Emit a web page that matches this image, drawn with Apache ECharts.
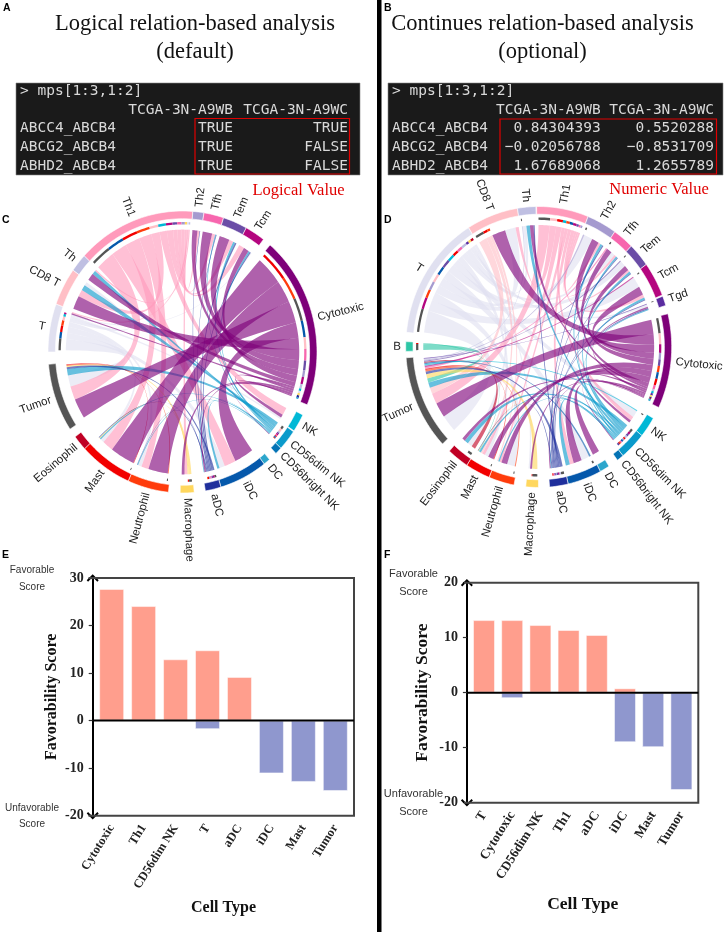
<!DOCTYPE html>
<html><head><meta charset="utf-8">
<style>html,body{margin:0;padding:0;background:#fff}#c{width:726px;height:932px}</style>
<script src="https://cdn.jsdelivr.net/npm/echarts@6/dist/echarts.min.js"></script>
</head><body><div id="c"></div>
<script>
// ---------- terminal panels ----------
const termCmd = '> mps[1:3,1:2]';
const termCols = ['TCGA-3N-A9WB', 'TCGA-3N-A9WC'];
const termRows = ['ABCC4_ABCB4', 'ABCG2_ABCB4', 'ABHD2_ABCB4'];
const logicalA = ['TRUE', 'TRUE', 'TRUE'];
const logicalB = ['TRUE', 'FALSE', 'FALSE'];
const numericA = ['0.84304393', '\u22120.02056788', '1.67689068'];
const numericB = ['0.5520288', '\u22120.8531709', '1.2655789'];

// ---------- chord C ----------
const namesC = ['Th1','Th2','Tfh','Tem','Tcm','Cytotoxic','NK','CD56dim NK','CD56bright NK','DC','iDC','aDC','Macrophage','Neutrophil','Mast','Eosinophil','Tumor','T','CD8 T','Th'];
const spansC = [51.4,4.8,8.6,10.5,8.7,71.4,7.5,8.6,3,2.9,20.8,6.8,6,17.8,22.9,6.3,28.2,19.9,15.6,7.5];
const linksC = [
 ['T','Tumor',4.5,4.5],['T','iDC',2.5,2],['T','Mast',2.5,1.5],['T','Neutrophil',2,1.5],['T','CD8 T',1.5,1.5],['T','NK',1,.8],['T','Tcm',.6,.4],
 ['Th1','Tumor',9,5.5],['Th1','iDC',7.5,4.2],['Th1','Mast',7,4.5],['Th1','Neutrophil',6,3],['Th1','CD8 T',4,3],['Th1','NK',3.5,3.5],['Th1','Tcm',3,2.5],['Th1','Tem',2,1.5],['Th1','Tfh',2,1.5],['Th1','Th2',1.5,1],['Th1','T',.8,.5],['Th1','Macrophage',1,1.7],['Th1','Th',.6,.6],
 ['Macrophage','Tumor',1.6,.5],['Macrophage','Mast',.6,.4],['Neutrophil','Tumor',.4,.3],['Mast','Tumor',.3,.3],
 ['CD56dim NK','Tumor',2,2.5],['CD56dim NK','CD8 T',2,2.5],['CD56dim NK','Th',1,1.4],['CD56dim NK','Tem',1,.7],['CD56dim NK','Tcm',1,.7],['CD56dim NK','Tfh',.7,.4],['CD56dim NK','Mast',.6,.5],['CD56dim NK','Neutrophil',.4,.3],['CD56dim NK','iDC',.6,.8],['CD56dim NK','aDC',.5,.5],
 ['aDC','Tumor',1,.8],['aDC','Tcm',.8,.5],['aDC','Tem',.8,.5],['aDC','Tfh',.7,.3],['aDC','Th2',.7,.3],['aDC','Mast',.6,.3],['aDC','Neutrophil',.4,.2],
 ['Cytotoxic','Mast',13,10],['Cytotoxic','Neutrophil',10,8],['Cytotoxic','Tumor',9.9,8],['Cytotoxic','iDC',7,7],['Cytotoxic','CD8 T',5,6],['Cytotoxic','Tfh',5,4.5],['Cytotoxic','Tem',4,3.5],['Cytotoxic','Th2',3,2.4],['Cytotoxic','Tcm',3,2.5],['Cytotoxic','Th',2,2.6],['Cytotoxic','NK',1,1.5],['Cytotoxic','T',1,.6],['Cytotoxic','Macrophage',1,1.6],['Cytotoxic','aDC',1,.8],['Cytotoxic','CD56dim NK',.5,.4]
];

// ---------- chord D ----------
const namesD = ['T','CD8 T','Th','Th1','Th2','Tfh','Tem','Tcm','Tgd','Cytotoxic','NK','CD56dim NK','CD56bright NK','DC','iDC','aDC','Macrophage','Neutrophil','Mast','Eosinophil','Tumor','B'];
const spansD = [52.2,22.6,8,22.7,13.1,9.2,9.9,14.3,4,39.2,8.6,11.6,3,4.3,14.8,8.1,5.5,11.2,10.8,9.5,39.3,4];
const linksD = [
 ['T','Tumor',8,8],['T','Tcm',4,5],['T','Neutrophil',3,4],['T','Th2',3,3],['T','CD8 T',3,4],['T','iDC',3,3],['T','Tem',3,3],['T','NK',2.5,2.5],['T','Mast',2,2],['T','Tfh',2,1.5],['T','Th',2,1.5],['T','Tgd',1,1],['T','Macrophage',1,.8],['T','Eosinophil',1,.6],
 ['Th1','Tumor',5,5],['Th1','CD8 T',3,1.2],['Th1','Mast',2.5,1.5],['Th1','NK',1.5,1.5],['Th1','Neutrophil',1.5,1],['Th1','iDC',1.5,1.5],['Th1','Tcm',1.5,1.5],['Th1','Tem',1,1],['Th1','Tfh',.8,.8],['Th1','Th2',.8,.8],
 ['CD8 T','Tumor',3,3],['CD8 T','Mast',1.5,1],['CD8 T','Neutrophil',1,.6],
 ['B','Tumor',3,2],['B','Mast',.5,.3],
 ['Macrophage','Tumor',2.5,2],['Macrophage','Mast',.3,.3],['Neutrophil','Tumor',.5,.7],['Mast','Tumor',.5,.7],['Eosinophil','Tumor',.5,.5],['Tfh','Tumor',.5,.7],['Tcm','Tumor',.5,.7],['Tem','Tumor',.5,.5],['Th2','Tumor',.5,.5],['iDC','Tumor',.6,.6],['NK','Tumor',.4,.7],['Th','Tumor',.4,.5],['Tgd','Tumor',.3,.3],
 ['CD56dim NK','Tumor',2,2.5],['CD56dim NK','Tcm',1.5,1],['CD56dim NK','Tem',1.5,1],['CD56dim NK','Th',1.5,1.5],['CD56dim NK','Mast',1,1],['CD56dim NK','Th2',1,.8],['CD56dim NK','Tfh',.8,.6],['CD56dim NK','Neutrophil',.8,.7],['CD56dim NK','iDC',1,1.5],['CD56dim NK','Eosinophil',.7,.5],['CD56dim NK','aDC',.5,.5],['CD56dim NK','Tgd',.3,.4],
 ['aDC','Tumor',1.5,1.2],['aDC','Th',.8,.5],['aDC','Tcm',.6,.4],['aDC','Tem',.6,.4],['aDC','Tfh',.5,.3],['aDC','Th2',.6,.4],['aDC','Tgd',.6,.5],['aDC','Mast',.5,.3],
 ['Cytotoxic','Tumor',7,7],['Cytotoxic','CD8 T',5,5],['Cytotoxic','Tcm',4,4],['Cytotoxic','Th2',3,2.5],['Cytotoxic','Tem',3,2.5],['Cytotoxic','Neutrophil',3,3],['Cytotoxic','iDC',3,3],['Cytotoxic','Mast',3,3],['Cytotoxic','Tfh',2,2],['Cytotoxic','Th',1,1.5],['Cytotoxic','NK',1,1],['Cytotoxic','Macrophage',.8,1],['Cytotoxic','Tgd',1,.6],['Cytotoxic','aDC',.5,.5],['Cytotoxic','Eosinophil',.5,.4],['Cytotoxic','DC',.4,.4],['Cytotoxic','CD56dim NK',.5,.5]
];

// ---------- bars ----------
const catsE = ['Cytotoxic','Th1','CD56dim NK','T','aDC','iDC','Mast','Tumor'];
const favE = [27.7,24.1,12.9,14.8,9.2,null,null,null];
const unfavE = [null,null,null,-1.8,null,-11.1,-12.9,-14.8];
const catsF = ['T','Cytotoxic','CD56dim NK','Th1','aDC','iDC','Mast','Tumor'];
const favF = [13.2,13.2,12.3,11.4,10.5,0.8,null,null];
const unfavF = [null,-1,null,null,null,-9,-9.9,-17.7];

// ---------- styling and layout ----------
const colors = {Th1:'#FF9ABB',Th2:'#A59ACF',Tfh:'#F766AE',Tem:'#6A4CA6',Tcm:'#B4057F',Tgd:'#5A2CA0',Cytotoxic:'#7E0079',NK:'#00B8D6','CD56dim NK':'#0A9ACB','CD56bright NK':'#0473B5',DC:'#2CA6CC',iDC:'#0558AB',aDC:'#1F2F9C',Macrophage:'#FFD75E',Neutrophil:'#FF3C0C',Mast:'#F20000',Eosinophil:'#C00024',Tumor:'#555555',T:'#E0E0F0','CD8 T':'#FFBFC6',Th:'#BFBFE2',B:'#2DC6A6'};
const gapsC = [0,0,0,0,3.6,4.5,.4,0,3.7,0,0,4.8,5,0,0,3.8,5,0,0,0];
const gapsD = [0,0,.3,0,0,0,0,.5,3.5,5,0,0,4.4,0,0,4.8,5.1,0,0,4.1,2.6,4.5];
const R = {ringOut:1,ringIn:.945,stripeOut:.922,stripeIn:.905,link:.868,label:1.035};

function layout(names, spans, gaps, links, start){
  let a = start; const sec = {};
  names.forEach((n,i)=>{ sec[n]={a0:a,a1:a+spans[i],ends:[]}; a+=spans[i]+gaps[i]; });
  const rib = links.map(l=>({src:l[0],tgt:l[1]}));
  links.forEach((l,i)=>{
    sec[l[0]].ends.push({i,side:'s',w:l[2],out:1});
    sec[l[1]].ends.push({i,side:'t',w:l[3],out:0});
  });
  const stripes=[];
  names.forEach(n=>{
    const s=sec[n], inset=Math.min(.8,(s.a1-s.a0)*.1);
    s.ends.sort((p,q)=>(q.out-p.out)||(q.w-p.w));
    const tot=s.ends.reduce((t,e)=>t+e.w,0);
    const k=(s.a1-s.a0-2*inset)/(tot||1);
    let p=s.a0+inset;
    s.ends.forEach(e=>{
      const b0=p,b1=p+e.w*k; p=b1;
      rib[e.i][e.side]=[b0,b1];
      if(e.out) stripes.push({a0:b0,a1:b1,color:colors[rib[e.i].tgt]});
    });
  });
  return {sec,rib,stripes};
}
const pt=(api,th,r)=>{const t=th*Math.PI/180;return api.coord([r*Math.sin(t),r*Math.cos(t)]);};
function arcPts(api,a0,a1,r,n){const o=[];for(let i=0;i<=n;i++)o.push(pt(api,a0+(a1-a0)*i/n,r));return o;}
function ribbonItem(params,api){
  const a0=api.value(0),a1=api.value(1),b0=api.value(2),b1=api.value(3),r=R.link;
  const pts=[];
  const bez=(t0,t1)=>{
    const u0=t0*Math.PI/180,u1=t1*Math.PI/180;
    const x0=r*Math.sin(u0),y0=r*Math.cos(u0),x1=r*Math.sin(u1),y1=r*Math.cos(u1);
    for(let i=1;i<30;i++){const s=i/30,w=(1-s)*(1-s),v=s*s;pts.push(api.coord([w*x0+v*x1,w*y0+v*y1]));}
  };
  pts.push(...arcPts(api,a0,a1,r,8)); bez(a1,b0);
  pts.push(...arcPts(api,b0,b1,r,8)); bez(b1,a0);
  return {type:'polygon',shape:{points:pts},style:{fill:api.visual('color'),opacity:.62}};
}
function arcItem(params,api){
  const a0=api.value(0),a1=api.value(1),r0=api.value(2),r1=api.value(3);
  const n=Math.max(3,Math.ceil((a1-a0)/1.5));
  const pts=arcPts(api,a0,a1,r1,n).concat(arcPts(api,a1,a0,r0,n));
  return {type:'polygon',shape:{points:pts},style:{fill:api.visual('color'),stroke:params.seriesName.endsWith('ring')?'#fff':null,lineWidth:.6}};
}
function chordSeries(lay,names,idx){
  const ribs=lay.rib.map(l=>({value:[l.s[0],l.s[1],l.t[0],l.t[1]],itemStyle:{color:colors[l.src]}}));
  const rings=names.map(n=>({value:[lay.sec[n].a0,lay.sec[n].a1,R.ringIn,R.ringOut],itemStyle:{color:colors[n]}}));
  const strp=lay.stripes.map(s=>({value:[s.a0,s.a1,R.stripeIn,R.stripeOut],itemStyle:{color:s.color}}));
  const base={type:'custom',coordinateSystem:'cartesian2d',xAxisIndex:idx,yAxisIndex:idx,clip:false,silent:true,animation:false};
  return [
    {...base,name:'ribbons'+idx,renderItem:ribbonItem,data:ribs,z:2},
    {...base,name:'stripe'+idx,renderItem:arcItem,data:strp,z:3},
    {...base,name:idx+'ring',renderItem:arcItem,data:rings,z:4},
    {...base,name:'labels'+idx,z:5,data:names.map(n=>[((lay.sec[n].a0+lay.sec[n].a1)/2)%360]),renderItem:(p,api)=>{
      const th=api.value(0),c=pt(api,th,R.label),right=th<=180;
      const deg=right?th-90:th-270;
      return {type:'text',x:c[0],y:c[1],rotation:-deg*Math.PI/180,style:{text:names[p.dataIndex],fill:'#222',font:'11.5px "Liberation Sans"',align:right?'left':'right',verticalAlign:'middle'}};
    }}
  ];
}
const layC=layout(namesC,spansC,gapsC,linksC,313);
const layD=layout(namesD,spansD,gapsD,linksD,276);

const box={C:{cx:182.5,cy:352,rx:134.5,ry:141},D:{cx:538.7,cy:347,rx:133,ry:140.5}};
const E={left:95.7,width:255.6,top:578,height:237.7,frameL:88.5,frameR:354,barW:25,tick:12.5,nameS:16,cellS:16,rot:58,gap:33,cellGap:84,labM:10};
const F={left:469.9,width:225.6,top:582.7,height:220,frameL:464,frameR:698.3,barW:22,tick:13.2,nameS:17.5,cellS:17.5,rot:58,gap:35,cellGap:93,labM:10};
const zeroFrac={E:.6,F:.5};
const chev='path://M-11 11 L0 0 L11 11 L8.5 13.5 L0 5 L-8.5 13.5 Z';

function barGrid(b){return {left:b.left,width:b.width,top:b.top,height:b.height};}
function barX(b,cats,idx){return {type:'category',gridIndex:idx,data:cats,name:'Cell Type',nameLocation:'middle',nameGap:b.cellGap,
  nameTextStyle:{fontFamily:'Liberation Serif',fontWeight:'bold',fontSize:b.cellS,color:'#111'},
  axisLine:{onZero:false,lineStyle:{color:'#444',width:0}},axisTick:{alignWithLabel:true,length:5,lineStyle:{color:'#444',width:1.5}},
  axisLabel:{interval:0,rotate:b.rot,margin:b.labM,fontFamily:'Liberation Serif',fontWeight:'bold',fontSize:b.tick,color:'#222'}};}
function barY(b,mn,mx,idx){return {type:'value',gridIndex:idx,min:mn,max:mx,interval:10,offset:3,name:'Favorability Score',nameLocation:'middle',nameGap:b.gap,
  nameTextStyle:{fontFamily:'Liberation Serif',fontWeight:'bold',fontSize:b.nameS,color:'#111'},
  splitLine:{show:false},
  axisLine:{show:true,symbol:[chev,chev],symbolSize:[12,8],lineStyle:{color:'#000',width:2}},
  axisTick:{show:true,length:4,lineStyle:{color:'#333',width:1.2}},
  axisLabel:{margin:9,fontFamily:'Liberation Serif',fontWeight:'bold',fontSize:14,color:'#222'}};}
function barSeries(name,vals,color,b,idx){return {type:'bar',name,xAxisIndex:idx,yAxisIndex:idx,data:vals,barWidth:b.barW,barGap:'-100%',z:3,animation:false,silent:true,itemStyle:{color,borderColor:'rgba(255,255,255,.5)',borderWidth:1}};}

// ---------- graphics: text, terminal, frames ----------
const g=[];
const txt=(t,x,y,font,fill,align,extra)=>g.push(Object.assign({type:'text',x,y,z:50,style:{text:t,font,fill:fill||'#111',align:align||'left',verticalAlign:'middle'}},extra||{}));
const rect=(x,y,w,h,st,z)=>g.push({type:'rect',shape:{x,y,width:w,height:h},style:st,z:z||1});
rect(377,0,4.5,932,{fill:'#000'});
const titleF='22.5px "Liberation Serif"';
txt('Logical relation-based analysis',195,24,titleF,'#111','center');
txt('(default)',195,52,titleF,'#111','center');
txt('Continues relation-based analysis',542.5,24,titleF,'#111','center');
txt('(optional)',542.5,52,titleF,'#111','center');
const mono='14.5px "DejaVu Sans Mono"', termFill='#d9d9d9', rowY=[128.5,147,166];
function terminal(x,w,textX,colR,a,b,red){
  rect(x,83,w,92,{fill:'#1a1a1a',stroke:'#888',lineWidth:.6});
  txt(termCmd,textX,91,mono,termFill);
  termCols.forEach((c,i)=>txt(c,colR[i],110,mono,termFill,'right'));
  termRows.forEach((r,i)=>{txt(r,textX,rowY[i],mono,termFill);txt(a[i],colR[0],rowY[i],mono,termFill,'right');txt(b[i],colR[1],rowY[i],mono,termFill,'right');});
  rect(red[0],red[1],red[2],red[3],{fill:null,stroke:'#e00000',lineWidth:1.2},40);
}
terminal(16,344,20,[233,348],logicalA,logicalB,[195,118.5,154.5,55.5]);
terminal(388,335,392,[600.7,714],numericA,numericB,[500,119,216.5,55]);
const redF='16.5px "Liberation Serif"';
txt('Logical Value',298.5,191,redF,'#e00000','center');
txt('Numeric Value',659,190,redF,'#e00000','center');
const lett='bold 10.5px "Liberation Sans"';
[['A',3,8],['B',384,8],['C',2,220],['D',384,220],['E',2,555],['F',384,555]].forEach(l=>txt(l[0],l[1],l[2],lett,'#000'));
function frame(b,zf){
  const bt=b.top+b.height;
  g.push({type:'polyline',shape:{points:[[b.frameL,b.top],[b.frameR,b.top],[b.frameR,bt],[b.frameL,bt]]},style:{fill:null,stroke:'#444',lineWidth:2},z:1});
  const y=b.top+b.height*zf;
  g.push({type:'line',shape:{x1:b.frameL+4,y1:y,x2:b.frameR,y2:y},style:{stroke:'#000',lineWidth:2},z:60});
}
frame(E,zeroFrac.E);frame(F,zeroFrac.F);
const side10='10px "Liberation Sans"', side11='11px "Liberation Sans"';
txt('Favorable',32,570.7,side10,'#333','center');txt('Score',32,587,side10,'#333','center');
txt('Unfavorable',32,808,side10,'#333','center');txt('Score',32,824,side10,'#333','center');
txt('Favorable',413.5,574,side11,'#333','center');txt('Score',413.5,592,side11,'#333','center');
txt('Unfavorable',413.5,794,side11,'#333','center');txt('Score',413.5,812,side11,'#333','center');

const hiddenX=i=>({type:'value',gridIndex:i,min:-1,max:1,show:false});
const hiddenY=i=>({type:'value',gridIndex:i,min:-1,max:1,show:false});
const chordGrid=b=>({left:b.cx-b.rx,width:2*b.rx,top:b.cy-b.ry,height:2*b.ry});

const chart=echarts.init(document.getElementById('c'),null,{renderer:'canvas'});
chart.setOption({
  animation:false,backgroundColor:'#fff',
  grid:[chordGrid(box.C),chordGrid(box.D),barGrid(E),barGrid(F)],
  xAxis:[hiddenX(0),hiddenX(1),barX(E,catsE,2),barX(F,catsF,3)],
  yAxis:[hiddenY(0),hiddenY(1),barY(E,-20,30,2),barY(F,-20,20,3)],
  graphic:{elements:g},
  series:[
    ...chordSeries(layC,namesC,0),
    ...chordSeries(layD,namesD,1),
    barSeries('Favorable',favE,'#FF9E8D',E,2),barSeries('Unfavorable',unfavE,'#8F97CE',E,2),
    barSeries('Favorable',favF,'#FF9E8D',F,3),barSeries('Unfavorable',unfavF,'#8F97CE',F,3)
  ]
});
</script></body></html>
